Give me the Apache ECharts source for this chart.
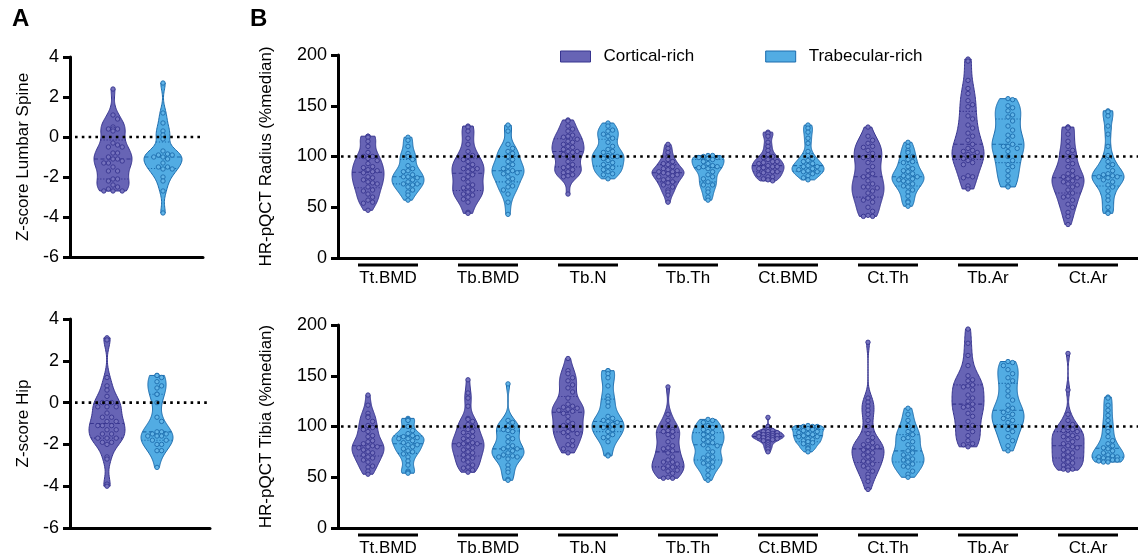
<!DOCTYPE html>
<html><head><meta charset="utf-8">
<script src="https://cdn.jsdelivr.net/npm/echarts@6/dist/echarts.min.js"></script>
<style>html,body{margin:0;padding:0;background:#fff}#c{width:1138px;height:559px}</style>
</head><body><div id="c"></div>
<script>
// ---------- DATA ----------
const categories = ['Tt.BMD','Tb.BMD','Tb.N','Tb.Th','Ct.BMD','Ct.Th','Tb.Ar','Ct.Ar'];
const groupNames = ['Cortical-rich','Trabecular-rich'];
const zTicks = [-6, 4, 2];        // min, max, step for Z-score axes
const pctTicks = [0, 200, 50];    // min, max, step for %median axes

const spineCortical = [2.4,1.1,0.9,0.5,0.4,0.4,0.4,0.3,-0.3,-0.4,-0.5,-0.5,-0.8,-0.8,-1.0,-1.1,-1.1,-1.2,-1.3,-1.3,-1.5,-1.7,-1.7,-2.1,-2.1,-2.2,-2.4,-2.5,-2.6,-2.7,-2.7,-2.7];
const spineTrabecular = [2.7,1.2,0.7,0.3,0.1,-0.1,-0.7,-0.85,-0.9,-0.9,-1.0,-1.0,-1.1,-1.3,-1.5,-1.5,-1.6,-1.6,-2.0,-2.2,-2.7,-3.8];
const hipCortical = [3.1,3.0,1.2,0.8,0.6,0.3,0.0,0.0,0.0,-0.2,-0.2,-0.2,-0.5,-0.7,-0.7,-0.9,-0.9,-1.1,-1.1,-1.1,-1.3,-1.3,-1.5,-1.5,-1.7,-1.7,-1.7,-1.9,-1.9,-2.0,-2.6,-2.7,-3.9,-4.0];
const hipTrabecular = [1.3,1.3,1.2,1.0,0.8,0.7,0.4,0.4,0.0,-0.7,-0.9,-1.4,-1.4,-1.5,-1.5,-1.6,-1.6,-1.6,-1.8,-1.8,-2.0,-2.0,-2.3,-2.3,-3.1];

const radiusCortical = [
  [120,120,119,115,110,104,100,100,98,96,93,90,89,87,86,85,84,80,79,77,75,74,73,70,67,66,63,60,57,55,54,47],
  [130,129,125,118,112,105,101,100,97,95,92,90,88,88,87,85,82,80,78,75,72,70,69,67,65,63,62,60,58,55,45,44],
  [136,135,130,127,125,121,120,119,117,115,114,112,110,109,107,105,105,104,102,100,98,95,92,90,89,87,85,84,82,81,80,63],
  [112,108,104,100,97,95,93,92,90,88,87,86,85,85,84,83,82,81,80,78,77,75,74,72,70,67,65,62,55],
  [124,123,120,114,110,106,102,100,99,97,95,95,94,93,91,90,90,89,88,86,85,85,84,82,80,80,78,77,76],
  [129,120,116,113,110,109,106,103,100,99,97,94,90,86,83,81,80,76,73,70,70,69,66,64,60,59,57,55,50,46,42,41,41],
  [196,194,175,167,162,155,151,149,140,137,131,128,123,120,116,112,108,106,105,104,102,100,98,96,94,92,81,80,79,71,68],
  [129,129,128,122,115,110,106,104,100,96,93,90,86,83,81,80,79,78,76,75,73,72,70,67,64,61,60,57,53,50,45,41,33]
];
const radiusTrabecular = [
  [119,116,110,103,100,100,97,91,88,86,85,82,80,80,79,77,75,73,73,72,70,67,65,62,57],
  [131,125,112,108,105,103,100,97,95,92,90,88,86,85,84,83,80,78,75,71,70,67,63,55,43],
  [133,130,126,125,122,120,118,114,110,107,105,104,101,100,100,98,96,94,92,90,89,87,85,83,82,78],
  [101,101,100,99,99,98,97,95,93,91,90,90,89,88,85,82,80,78,75,72,72,68,65,60,57],
  [131,128,124,118,113,105,101,98,96,95,93,91,90,90,88,87,86,85,85,83,81,79,77],
  [114,110,106,104,100,97,95,94,90,88,86,85,83,81,80,80,78,77,76,75,73,71,70,67,65,61,56,55,51],
  [157,156,150,148,145,141,139,135,130,126,121,120,116,112,110,110,108,105,100,96,92,90,86,81,76,71,70],
  [145,144,140,130,122,110,101,95,92,90,86,83,82,81,80,80,79,77,75,72,70,66,61,57,50,45,44]
];
const tibiaCortical = [
  [131,121,113,110,109,105,101,99,97,95,91,90,86,85,83,81,80,80,79,77,75,74,72,70,69,67,65,61,60,56,53],
  [146,133,128,120,108,107,105,102,100,97,95,94,91,90,88,86,84,83,83,82,80,79,77,75,74,72,70,69,67,65,62,60,59,57,55],
  [167,155,152,148,145,141,138,134,128,122,120,119,118,117,116,115,113,110,105,103,101,100,97,95,94,93,90,86,82,81,78,74],
  [139,112,106,101,97,96,95,95,92,90,85,81,79,78,76,74,70,67,65,65,63,61,60,59,57,56,54,50,49,49],
  [109,100,97,96,95,95,94,93,93,92,92,91,91,90,90,89,89,88,88,87,86,85,84,82,80,78,75],
  [183,128,124,120,116,112,106,100,93,89,86,84,82,80,80,79,77,75,74,72,70,68,66,65,63,61,59,56,53,50,46,38],
  [196,182,170,160,150,146,145,141,140,139,136,131,128,125,122,120,119,117,113,110,105,101,98,95,91,86,83,82,80],
  [172,136,112,106,102,99,97,96,95,92,91,90,89,87,85,83,81,80,79,77,75,74,72,70,69,67,65,64,62,60,58,58,57]
];
const tibiaTrabecular = [
  [108,107,106,100,96,93,91,90,89,88,88,86,84,82,82,80,78,76,75,73,70,66,62,56,55,54],
  [142,106,104,101,99,97,96,95,90,88,85,81,80,78,78,76,74,72,71,70,70,68,62,58,55,48,47],
  [155,155,152,148,140,130,127,124,120,110,108,106,105,104,102,100,99,97,95,92,90,89,85,72,71],
  [107,106,104,101,99,97,95,94,92,90,89,87,85,84,82,81,78,75,72,70,69,67,65,64,62,60,57,52,47],
  [101,100,100,100,99,98,97,96,95,94,93,92,91,90,90,88,87,86,85,84,83,81,79,78,75],
  [118,112,106,101,97,95,92,89,88,85,82,79,76,74,72,70,68,67,65,63,61,60,56,53,50],
  [164,163,160,156,152,148,145,140,135,130,126,121,118,116,114,112,110,108,106,104,100,97,95,90,86,81,76],
  [129,128,121,116,111,106,101,98,95,90,86,83,81,79,78,76,74,72,71,70,70,69,68,67,67,66,65,65]
];

// ---------- STYLE ----------
const FONT = 'Liberation Sans, Arial, Helvetica, sans-serif';
const palCort = {fill:'#6764b5', stroke:'#37348f', dot:'#7673be'};
const palTrab = {fill:'#52ace3', stroke:'#1c6cad', dot:'#62b5e8'};

// ---------- HELPERS ----------
function stats(vals){
  const s = vals.slice().sort((a,b)=>a-b);
  const n = s.length;
  const mean = s.reduce((a,b)=>a+b,0)/n;
  const sd = Math.sqrt(s.reduce((a,b)=>a+(b-mean)*(b-mean),0)/(n-1));
  const q = p => { const pos=(n-1)*p, lo=Math.floor(pos), hi=Math.ceil(pos); return s[lo]+(s[hi]-s[lo])*(pos-lo); };
  const q1=q(0.25), med=q(0.5), q3=q(0.75);
  let spread = Math.min(sd, (q3-q1)/1.34); if(!(spread>0)) spread = sd;
  const h = 0.75*0.9*spread*Math.pow(n,-0.2);
  const dens = y => s.reduce((a,v)=>a+Math.exp(-0.5*((y-v)/h)*((y-v)/h)),0);
  const steps=90, ys=[], ds=[]; let mx=0;
  for(let k=0;k<=steps;k++){ const y=s[0]+(s[n-1]-s[0])*k/steps; const d=dens(y); ys.push(y); ds.push(d); if(d>mx) mx=d; }
  return {s, q1, med, q3, ys, ds, mx, dens};
}

function makeViolin(sets, offset, pal, halfW){
  const cache = sets.map(stats);
  return function(params, api){
    const st = cache[params.dataIndex];
    const xv = api.value(0);
    const cx = api.coord([xv, st.med])[0] + offset;
    const Y = v => api.coord([xv, v])[1];
    const W = v => st.dens(v)/st.mx*halfW;
    const L=[], R=[];
    st.ys.forEach((y,k)=>{ const py=Y(y), w=st.ds[k]/st.mx*halfW; L.push([cx-w,py]); R.push([cx+w,py]); });
    const children = [{type:'polygon', shape:{points:L.concat(R.reverse())}, style:{fill:pal.fill, stroke:pal.stroke, lineWidth:1}}];
    [[st.q1,[1.2,1.8]],[st.med,[4,2.5]],[st.q3,[1.2,1.8]]].forEach(([v,dash])=>{
      const py=Y(v), w=W(v);
      children.push({type:'line', shape:{x1:cx-w, y1:py, x2:cx+w, y2:py}, style:{stroke:pal.stroke, lineWidth:1.1, lineDash:dash}});
    });
    const placed=[]; const r=2.2, d=4.6;
    st.s.slice().reverse().forEach(v=>{
      const py=Y(v);
      const maxOff = Math.max(0, W(v)-r-1);
      let best=0, bestScore=-1;
      for(let t=0;t<40;t++){
        const off = t===0 ? 0 : (t%2 ? 1 : -1)*Math.ceil(t/2)*d;
        if(Math.abs(off) > maxOff + 0.01) { if(t>1) break; else continue; }
        const md = placed.reduce((m,p)=>Math.min(m, Math.hypot(p[0]-(cx+off), p[1]-py)), 1e9);
        if(md >= d-0.3){ best=off; bestScore=1e9; break; }
        if(md > bestScore){ bestScore=md; best=off; }
      }
      placed.push([cx+best,py]);
      children.push({type:'circle', shape:{cx:cx+best, cy:py, r}, style:{fill:pal.dot, stroke:pal.stroke, lineWidth:0.9}});
    });
    return {type:'group', children};
  };
}

function refLine(value, inset){
  return function(params, api){
    const cs = params.coordSys;
    const y = api.coord([0, value])[1];
    return {type:'line', shape:{x1:cs.x+inset, y1:y, x2:cs.x+cs.width, y2:y}, style:{stroke:'#000', lineWidth:2.6, lineDash:[2.6,4.2]}};
  };
}

function underline(params, api){
  const p = api.coord([api.value(0), 0]);
  return {type:'line', shape:{x1:p[0]-30, y1:p[1]+7, x2:p[0]+30, y2:p[1]+7}, style:{stroke:'#000', lineWidth:3}};
}

const axisLineStyle = {show:true, onZero:false, lineStyle:{color:'#000', width:3}};
const tickStyle = {show:true, length:7, lineStyle:{color:'#000', width:3}};
const labelStyle = {color:'#000', fontSize:18, fontFamily:FONT, margin:11};
const nameStyle = {color:'#000', fontSize:17, fontFamily:FONT};

function yAx(idx, ticks, name, gap){
  return {type:'value', gridIndex:idx, min:ticks[0], max:ticks[1], interval:ticks[2],
    axisLine:axisLineStyle, axisTick:tickStyle, axisLabel:labelStyle, splitLine:{show:false},
    name:name, nameLocation:'middle', nameGap:gap, nameTextStyle:nameStyle};
}

const catData = categories.map((c,i)=>[i]);

const option = {
  animation:false,
  backgroundColor:'#fff',
  textStyle:{fontFamily:FONT},
  graphic:[
    {type:'text', left:12, top:7, style:{text:'A', font:'bold 24px '+FONT, fill:'#000'}},
    {type:'text', left:250, top:7, style:{text:'B', font:'bold 24px '+FONT, fill:'#000'}}
  ],
  legend:{
    left:555, top:43, itemWidth:30, itemHeight:11, itemGap:71, selectedMode:false,
    textStyle:{color:'#000', fontSize:17, fontFamily:FONT, padding:[0,0,0,8]},
    data:[
      {name:groupNames[0], icon:'rect', itemStyle:{color:palCort.fill, borderColor:palCort.stroke, borderWidth:1}},
      {name:groupNames[1], icon:'rect', itemStyle:{color:palTrab.fill, borderColor:palTrab.stroke, borderWidth:1}}
    ]
  },
  grid:[
    {left:70, top:57, width:133, height:200, outerBoundsMode:'none'},
    {left:70, top:319, width:140, height:209, outerBoundsMode:'none'},
    {left:338, top:55, width:800, height:203, outerBoundsMode:'none'},
    {left:338, top:325, width:800, height:203, outerBoundsMode:'none'}
  ],
  xAxis:[
    {type:'value', gridIndex:0, min:-0.86, max:1.8, axisLine:axisLineStyle, axisTick:{show:false}, axisLabel:{show:false}, splitLine:{show:false}},
    {type:'value', gridIndex:1, min:-0.74, max:2.06, axisLine:axisLineStyle, axisTick:{show:false}, axisLabel:{show:false}, splitLine:{show:false}},
    {type:'category', gridIndex:2, data:categories, axisLine:axisLineStyle, axisTick:{show:false}, axisLabel:{color:'#000', fontSize:17, fontFamily:FONT, margin:12}, splitLine:{show:false}},
    {type:'category', gridIndex:3, data:categories, axisLine:axisLineStyle, axisTick:{show:false}, axisLabel:{color:'#000', fontSize:17, fontFamily:FONT, margin:12}, splitLine:{show:false}}
  ],
  yAxis:[
    yAx(0, zTicks, 'Z-score Lumbar Spine', 38),
    yAx(1, zTicks, 'Z-score Hip', 38),
    yAx(2, pctTicks, 'HR-pQCT Radius (%median)', 63),
    yAx(3, pctTicks, 'HR-pQCT Tibia (%median)', 63)
  ],
  series:[
    {type:'custom', name:groupNames[0], xAxisIndex:0, yAxisIndex:0, data:[[0]], renderItem:makeViolin([spineCortical],0,palCort,19), itemStyle:{color:palCort.fill}, clip:false, z:2},
    {type:'custom', name:groupNames[1], xAxisIndex:0, yAxisIndex:0, data:[[1]], renderItem:makeViolin([spineTrabecular],0,palTrab,19), itemStyle:{color:palTrab.fill}, clip:false, z:2},
    {type:'custom', name:groupNames[0], xAxisIndex:1, yAxisIndex:1, data:[[0]], renderItem:makeViolin([hipCortical],0,palCort,18), itemStyle:{color:palCort.fill}, clip:false, z:2},
    {type:'custom', name:groupNames[1], xAxisIndex:1, yAxisIndex:1, data:[[1]], renderItem:makeViolin([hipTrabecular],0,palTrab,16), itemStyle:{color:palTrab.fill}, clip:false, z:2},
    {type:'custom', name:groupNames[0], xAxisIndex:2, yAxisIndex:2, data:catData, renderItem:makeViolin(radiusCortical,-20,palCort,16), itemStyle:{color:palCort.fill}, clip:false, z:2},
    {type:'custom', name:groupNames[1], xAxisIndex:2, yAxisIndex:2, data:catData, renderItem:makeViolin(radiusTrabecular,20,palTrab,16), itemStyle:{color:palTrab.fill}, clip:false, z:2},
    {type:'custom', name:groupNames[0], xAxisIndex:3, yAxisIndex:3, data:catData, renderItem:makeViolin(tibiaCortical,-20,palCort,16), itemStyle:{color:palCort.fill}, clip:false, z:2},
    {type:'custom', name:groupNames[1], xAxisIndex:3, yAxisIndex:3, data:catData, renderItem:makeViolin(tibiaTrabecular,20,palTrab,16), itemStyle:{color:palTrab.fill}, clip:false, z:2},
    {type:'custom', xAxisIndex:0, yAxisIndex:0, data:[[0]], renderItem:refLine(0,5), clip:false, z:5, silent:true},
    {type:'custom', xAxisIndex:1, yAxisIndex:1, data:[[0]], renderItem:refLine(0,5), clip:false, z:5, silent:true},
    {type:'custom', xAxisIndex:2, yAxisIndex:2, data:[[0]], renderItem:refLine(100,3), clip:false, z:5, silent:true},
    {type:'custom', xAxisIndex:3, yAxisIndex:3, data:[[0]], renderItem:refLine(100,3), clip:false, z:5, silent:true},
    {type:'custom', xAxisIndex:2, yAxisIndex:2, data:catData, renderItem:underline, clip:false, z:5, silent:true},
    {type:'custom', xAxisIndex:3, yAxisIndex:3, data:catData, renderItem:underline, clip:false, z:5, silent:true}
  ]
};
const chart = echarts.init(document.getElementById('c'), null, {renderer:'canvas'});
chart.setOption(option);
</script>
</body></html>
